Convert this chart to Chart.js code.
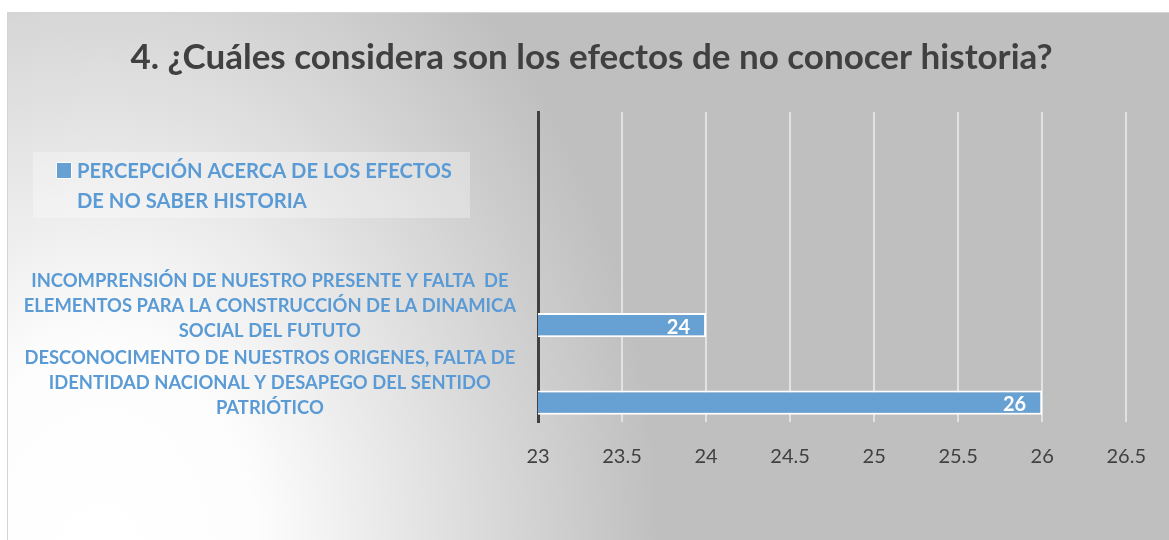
<!DOCTYPE html>
<html lang="es">
<head>
<meta charset="utf-8">
<title>Efectos de no conocer historia</title>
<script src="https://cdn.jsdelivr.net/npm/chart.js@4.4.1/dist/chart.umd.min.js"></script>
<style>
  html, body { margin: 0; padding: 0; background: #fff; }
  body { width: 1169px; height: 540px; position: relative; overflow: hidden; }
  #frame {
    position: absolute; left: 7px; top: 12px; width: 1170px; height: 540px;
    border-left: 1px solid #d4d4d4; border-top: 1px solid #d4d4d4;
    background: radial-gradient(ellipse 560px 760px at 93px 548px, #ffffff 0%, #fdfdfd 28%, #bfbfbf 100%);
  }
  #chart { position: absolute; left: 0; top: 0; }
</style>
</head>
<body>
<div id="frame"></div>
<canvas id="chart" width="1169" height="540"></canvas>
<script>
// --- datos ---
const chartTitle = '4. ¿Cuáles considera son los efectos de no conocer historia?';
const legendLines = ['PERCEPCIÓN ACERCA DE LOS EFECTOS', 'DE NO SABER HISTORIA'];
// las dos primeras filas van vacías, como en la gráfica original
const categories = [
    '',
    '',
    ['INCOMPRENSIÓN DE NUESTRO PRESENTE Y FALTA  DE', 'ELEMENTOS PARA LA CONSTRUCCIÓN DE LA DINAMICA', 'SOCIAL DEL FUTUTO'],
    ['DESCONOCIMENTO DE NUESTROS ORIGENES, FALTA DE', 'IDENTIDAD NACIONAL Y DESAPEGO DEL SENTIDO', 'PATRIÓTICO']
];
const values = [null, null, 24, 26];
const xTicks = [23, 23.5, 24, 24.5, 25, 25.5, 26, 26.5];

const BAR_COLOR = '#67a0d2';
const LABEL_COLOR = '#5b9bd5';
const FONT = 'Lato';

// --- etiquetas de valor dentro de las barras ---
const barLabels = {
    id: 'barLabels',
    afterDatasetsDraw(chart) {
        const ctx = chart.ctx;
        const meta = chart.getDatasetMeta(1);
        ctx.save();
        ctx.font = `bold 20px ${FONT}`;
        ctx.fillStyle = '#ffffff';
        ctx.textAlign = 'right';
        ctx.textBaseline = 'middle';
        meta.data.forEach((bar, i) => {
            if (values[i] == null) return;
            ctx.fillText(String(values[i]), bar.x - 16, bar.y + 2);
        });
        ctx.restore();
    }
};

// --- leyenda dentro del área (como en Excel) ---
const boxLegend = {
    id: 'boxLegend',
    // el eje Y empieza más a la derecha por el padding; que no recorte las etiquetas
    afterLayout(chart) {
        chart.scales.y.left = 0;
    },
    afterDraw(chart) {
        const ctx = chart.ctx;
        ctx.save();
        ctx.fillStyle = 'rgba(255,255,255,0.3)';
        ctx.fillRect(33, 152, 437, 66);
        ctx.fillStyle = BAR_COLOR;
        ctx.fillRect(57, 163, 14, 15);
        ctx.strokeStyle = '#ffffff';
        ctx.lineWidth = 1;
        ctx.strokeRect(56.5, 162.5, 15, 16);
        ctx.font = `bold 20.2px ${FONT}`;
        ctx.fillStyle = LABEL_COLOR;
        ctx.textBaseline = 'middle';
        legendLines.forEach((line, i) => {
            ctx.fillText(line, 77, 171 + i * 30);
        });
        ctx.restore();
    }
};

const chart = new Chart(document.getElementById('chart'), {
    type: 'bar',
    data: {
        labels: categories,
        datasets: [
            { label: '', data: values.map(() => null) },
            {
                label: legendLines.join(' '),
                data: values,
                backgroundColor: BAR_COLOR,
                borderColor: '#ffffff',
                borderWidth: 2
            }
        ]
    },
    options: {
        indexAxis: 'y',
        responsive: false,
        animation: false,
        layout: { padding: { left: 52, right: 38, top: 0, bottom: 48 } },
        datasets: { bar: { categoryPercentage: 1, barPercentage: 0.62 } },
        plugins: {
            legend: { display: false },
            tooltip: { enabled: false },
            title: {
                display: true,
                text: chartTitle,
                color: '#404040',
                font: { family: FONT, size: 35, weight: 'bold' },
                padding: { top: 37, bottom: 33 }
            }
        },
        scales: {
            x: {
                min: 23,
                max: 26.5,
                afterBuildTicks: scale => { scale.ticks = xTicks.map(v => ({ value: v })); },
                grid: { color: '#e2e2e2', lineWidth: 2, drawTicks: false },
                border: { display: false },
                ticks: {
                    color: '#404040',
                    font: { family: FONT, size: 20 },
                    padding: 23,
                    callback: v => String(v)
                }
            },
            y: {
                grid: { display: false, drawTicks: false },
                border: { display: true, color: '#404040', width: 3 },
                afterFit: scale => { scale.width = 486; },
                ticks: {
                    color: LABEL_COLOR,
                    crossAlign: 'center',
                    padding: 22,
                    autoSkip: false,
                    font: { family: FONT, size: 18.4, weight: 'bold', lineHeight: '25px' }
                }
            }
        }
    },
    plugins: [barLabels, boxLegend]
});
</script>
</body>
</html>
